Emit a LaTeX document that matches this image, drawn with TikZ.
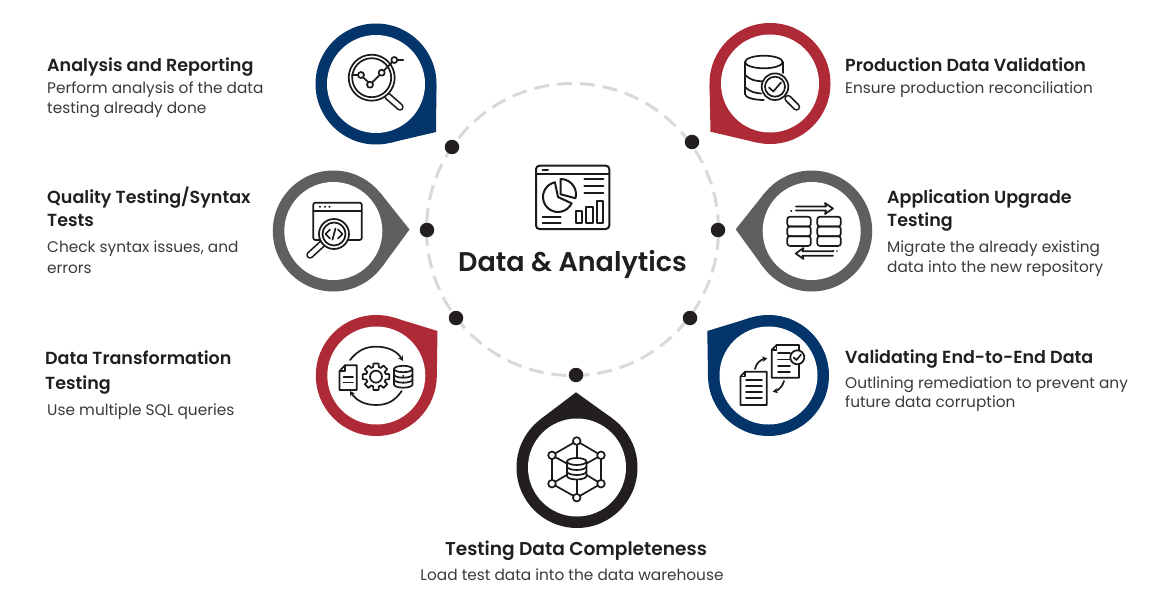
\documentclass[tikz,border=0pt]{standalone}
\usepackage{fontspec}
\setmainfont{Poppins}
\newfontfamily\hdfont{Poppins SemiBold}
\usetikzlibrary{calc,arrows.meta}
\definecolor{cblue}{HTML}{03346A}
\definecolor{cred}{HTML}{AE2A36}
\definecolor{cgray}{HTML}{5F5F5F}
\definecolor{cblack}{HTML}{231F20}
\definecolor{cink}{HTML}{1A1A1A}
\definecolor{chead}{HTML}{1F1F1F}
\definecolor{cbody}{HTML}{3A3A3A}
\definecolor{cdash}{HTML}{D9D9D9}
\tikzset{
  x=1pt,y=-1pt,
  pinbody/.style={circle,inner sep=0,outer sep=0,minimum size=121pt},
  pinhole/.style={circle,inner sep=0,outer sep=0,minimum size=98pt,fill=white},
  dotmark/.style={circle,inner sep=0,outer sep=0,minimum size=14.5pt,fill=cblack},
  head/.style={anchor=base west,inner sep=0,font=\hdfont\fontsize{17.5}{20}\selectfont,text=chead},
  body/.style={anchor=base west,inner sep=0,font=\fontsize{15.35}{18}\selectfont,text=cbody},
  ink/.style={draw=cink,line width=1.7pt,line join=round,line cap=round},
  solidw/.style={ink,fill=white},
  arr/.style={ink,-{Stealth[length=5pt,width=5.5pt]}},
}
% name, centre, tip, colour
\newcommand{\pinmark}[4]{%
  \coordinate (#1tip) at #3;
  \node[pinbody,fill=#4] (#1) at #2 {};
  \fill[#4] (#1tip) -- (tangent cs:node=#1,point={(#1tip)},solution=1)
     -- (tangent cs:node=#1,point={(#1tip)},solution=2) -- cycle;
  \node[pinhole] (#1hole) at #2 {};
}
% capsule handle
\newcommand{\capsule}[2]{%
  \draw[cink,line width=7.5pt,line cap=round] #1 -- #2;
  \draw[white,line width=4.2pt,line cap=round] #1 -- #2;
}
\begin{document}
\begin{tikzpicture}
\useasboundingbox (0,0) rectangle (1160,602);
\fill[white] (0,0) rectangle (1160,602);

% ring
\node[circle,inner sep=0,minimum size=292pt,draw=cdash,line width=3pt,dash pattern=on 15pt off 8pt] (ring) at (572.5,229.5) {};
\foreach \n/\p in {d1/{(452,147)},d2/{(427,230)},d3/{(456,318)},d4/{(576,375)},d5/{(690,318)},d6/{(718,230)},d7/{(692,142)}}
  \node[dotmark] (\n) at \p {};

% pins
\pinmark{pa}{(376,84)}{(436,132)}{cblue}
\pinmark{pb}{(333.3,231)}{(409.5,229.5)}{cgray}
\pinmark{pc}{(376.3,375.5)}{(437.5,331)}{cred}
\pinmark{pd}{(577,467.5)}{(576,392.3)}{cblack}
\pinmark{pe}{(770,83.5)}{(710.5,131.7)}{cred}
\pinmark{pf}{(811.7,231)}{(735.7,229.3)}{cgray}
\pinmark{pg}{(768.5,375.5)}{(707.3,331)}{cblue}

% --- icon: analysis
\capsule{(388,96.5)}{(400,107)}
\draw[solidw] (371.7,77.7) circle (23);
\draw[ink] (371.7,77.7) circle (19.5);
\draw[ink] (352,75) -- (361,75) (362.8,77.2) -- (368.6,82.4) (372,82.6) -- (379.7,75) (384,70.5) -- (392,62.3) (397.5,60) -- (403.3,60);
\foreach \p in {(361,75),(370,84.7),(381.7,72.7),(394.3,60)} \draw[solidw] \p circle (3);

% --- icon: code window
\draw[ink,rounded corners=2pt] (313.3,202.7) rectangle (361.7,240);
\draw[ink] (313.3,210.7) -- (361.7,210.7);
\foreach \x in {320,325,329.5} \fill[cink] (\x,206.8) circle (1.1);
\capsule{(310,255)}{(322,244)}
\draw[solidw] (334,234) circle (15);
\draw[ink] (334,234) circle (11.5);
\draw[ink] (330,229.5) -- (325.5,234) -- (330,238.5) (338,229.5) -- (342.5,234) -- (338,238.5) (335.5,228.5) -- (332.5,239.5);

% --- icon: transformation
\draw[ink] (339.5,371) -- (345,365.3) -- (356.7,365.3) -- (356.7,390) -- (339.5,390) -- cycle;
\draw[ink] (339.5,371) -- (345,371) -- (345,365.3);
\draw[ink] (343.5,377) -- (353,377) (343.5,382.5) -- (353,382.5);
\draw[ink] (376,376.7) circle (6);
\draw[ink] ($(376,376.7)+(-11:13.5)$) \foreach \a in {0,45,...,315} { -- ($(376,376.7)+(\a-11:13.5)$) -- ($(376,376.7)+(\a+11:13.5)$) -- ($(376,376.7)+(\a+16:10)$) -- ($(376,376.7)+(\a+29:10)$) } -- cycle;
\draw[ink] (394,369) -- (394,384.5) arc[start angle=180,end angle=0,x radius=9.25,y radius=3.2] -- (412.5,369);
\draw[ink] (403.25,369) ellipse (9.25 and 3.2);
\draw[ink] (394,374.5) arc[start angle=180,end angle=0,x radius=9.25,y radius=3.2];
\draw[ink] (394,379.5) arc[start angle=180,end angle=0,x radius=9.25,y radius=3.2];
\fill[cink] (403.2,376) circle (1.1) (403.2,382.5) circle (1.1);
\draw[arr] (350,360) .. controls (358,350) and (366,346.7) .. (376,346.7) .. controls (388,346.7) and (397,351) .. (403,361);
\draw[arr] (401.7,391) .. controls (395,401) and (387,405) .. (376,405) .. controls (364,405) and (356,400) .. (350,391);

% --- icon: network
\foreach \p/\q in {{(576.7,441)}/{(601,455.3)},{(601,455.3)}/{(601,483.7)},{(601,483.7)}/{(576.7,497.7)},{(576.7,497.7)}/{(552,483.7)},{(552,483.7)}/{(552,455.3)},{(552,455.3)}/{(576.7,441)},{(576.7,441)}/{(576.7,497.7)},{(552,455.3)}/{(576.7,469)},{(601,455.3)}/{(576.7,469)},{(552,483.7)}/{(576.7,469)},{(601,483.7)}/{(576.7,469)}}
  \draw[ink] \p -- \q;
\draw[solidw] (567,461.5) -- (567,476) arc[start angle=180,end angle=0,x radius=9.7,y radius=3.5] -- (586.4,461.5) -- cycle;
\draw[solidw] (576.7,461.5) ellipse (9.7 and 3.5);
\draw[ink] (567,466.5) arc[start angle=180,end angle=0,x radius=9.7,y radius=3.5];
\draw[ink] (567,471.5) arc[start angle=180,end angle=0,x radius=9.7,y radius=3.5];
\foreach \p in {(576.7,441),(601,455.3),(601,483.7),(576.7,497.7),(552,483.7),(552,455.3)} \draw[solidw] \p circle (3.8);

% --- icon: db + lens
\draw[ink] (745,62) -- (745,94) arc[start angle=180,end angle=90,x radius=18.8,y radius=6];
\draw[ink] (782.7,62) -- (782.7,73);
\draw[ink] (763.85,62) ellipse (18.8 and 6.3);
\draw[ink] (745,74.5) .. controls (750,80) and (755,81) .. (762,81.3);
\draw[ink] (745,87) .. controls (750,92) and (755,93) .. (761,93.5);
\capsule{(788,98.5)}{(796.5,107)}
\draw[solidw] (775,86.7) circle (13.3);
\draw[ink] (775,86.7) circle (10);
\draw[ink] (769,87.5) -- (773.3,91.5) -- (781,82.5);

% --- icon: upgrade
\foreach \x in {787.3,817.3} \foreach \y in {216.8,226.5,236.2}
  \draw[ink,rounded corners=2.5pt] (\x,\y) rectangle ++(23.5,9.7);
\draw[ink] (796,206.5) -- (826,206.5) -- (825,203) -- (833,208.5) -- (825,214) -- (826,210.5) -- (796,210.5);
\draw[ink,dash pattern=on 0.5pt off 3.5pt] (791,211) -- (795,211);
\draw[ink] (833,251.2) -- (802.5,251.2) -- (803.5,248) -- (795.7,253.5) -- (803.5,259) -- (802.5,255.7) -- (833,255.7);
\draw[ink,dash pattern=on 0.5pt off 3.5pt] (833,250.7) -- (837,250.7);

% --- icon: docs
\draw[solidw] (776.5,345) -- (799,345) -- (799,377.7) -- (771.7,377.7) -- (771.7,350) -- cycle;
\draw[ink] (771.7,350) -- (776.5,350) -- (776.5,345);
\foreach \y in {353,359.5,366,372} \draw[ink] (778,\y) -- (790,\y);
\draw[solidw] (797.3,357.3) circle (7);
\draw[ink] (793.8,357.5) -- (796.5,360) -- (801,354.5);
\draw[solidw] (745,371.7) -- (766.7,371.7) -- (766.7,405) -- (740.5,405) -- (740.5,376.5) -- cycle;
\draw[ink] (740.5,376.5) -- (745,376.5) -- (745,371.7);
\foreach \y in {380,386,392,398} \draw[ink] (746,\y) -- (762,\y);
\draw[arr] (755,369) .. controls (756,363) and (761,359.5) .. (767.3,358.3);
\draw[arr] (784,381) .. controls (783,386) and (778,390.5) .. (772.7,391.7);

% --- centre icon
\draw[ink,line width=2pt,rounded corners=3.5pt] (536,165.7) rectangle (609.3,229);
\draw[ink,line width=2pt] (536,174.3) -- (609.3,174.3);
\draw[ink,line width=2pt] (542.7,170) -- (548,170);
\coordinate (cpie) at (558,197);
\draw[ink,line width=2pt] (558,197) ++(258:15) arc[start angle=258,end angle=25,radius=15] -- (cpie) -- cycle;
\draw[ink,line width=2pt] (560.7,194.3) -- (560.7,179) arc[start angle=270,end angle=375,radius=15.3] -- cycle;
\foreach \y in {179.3,186,192.7} \draw[ink,line width=2pt] (584.3,\y) -- (603.3,\y);
\foreach \y in {216.7,223.3} \draw[ink,line width=2pt] (542.7,\y) -- (560.7,\y);
\draw[ink,line width=2pt] (575.7,211) rectangle (582.3,223.3);
\draw[ink,line width=2pt] (586,206.7) rectangle (592.7,223.3);
\draw[ink,line width=2pt] (597.3,201) rectangle (603.3,223.3);

% --- texts
\node[anchor=base,inner sep=0,font=\hdfont\fontsize{27}{30}\selectfont,text=chead] (title) at (572.5,271) {Data \& Analytics};

\node[head] (t1) at (47,71) {Analysis and Reporting};
\node[body] (t1a) at (47,94) {Perform analysis of the data};
\node[body] (t1b) at (47,113.5) {testing already done};

\node[head] (t2) at (47,203) {Quality Testing/Syntax};
\node[head] (t2x) at (47,226) {Tests};
\node[body] (t2a) at (47,252) {Check syntax issues, and};
\node[body] (t2b) at (47,273) {errors};

\node[head] (t3) at (45,364) {Data Transformation};
\node[head] (t3x) at (45,389) {Testing};
\node[body] (t3a) at (47,415) {Use multiple SQL queries};

\node[head] (t5) at (845,71) {Production Data Validation};
\node[body] (t5a) at (845,94) {Ensure production reconciliation};

\node[head] (t6) at (887,203) {Application Upgrade};
\node[head] (t6x) at (887,226) {Testing};
\node[body] (t6a) at (887,252) {Migrate the already existing};
\node[body] (t6b) at (887,272) {data into the new repository};

\node[head] (t7) at (845,363) {Validating End-to-End Data};
\node[body] (t7a) at (845,388) {Outlining remediation to prevent any};
\node[body] (t7b) at (845,407) {future data corruption};

\node[head,anchor=base,font=\hdfont\fontsize{18.6}{20}\selectfont] (t4) at (576,555) {Testing Data Completeness};
\node[body,anchor=base] (t4a) at (572,580) {Load test data into the data warehouse};
\end{tikzpicture}
\end{document}
